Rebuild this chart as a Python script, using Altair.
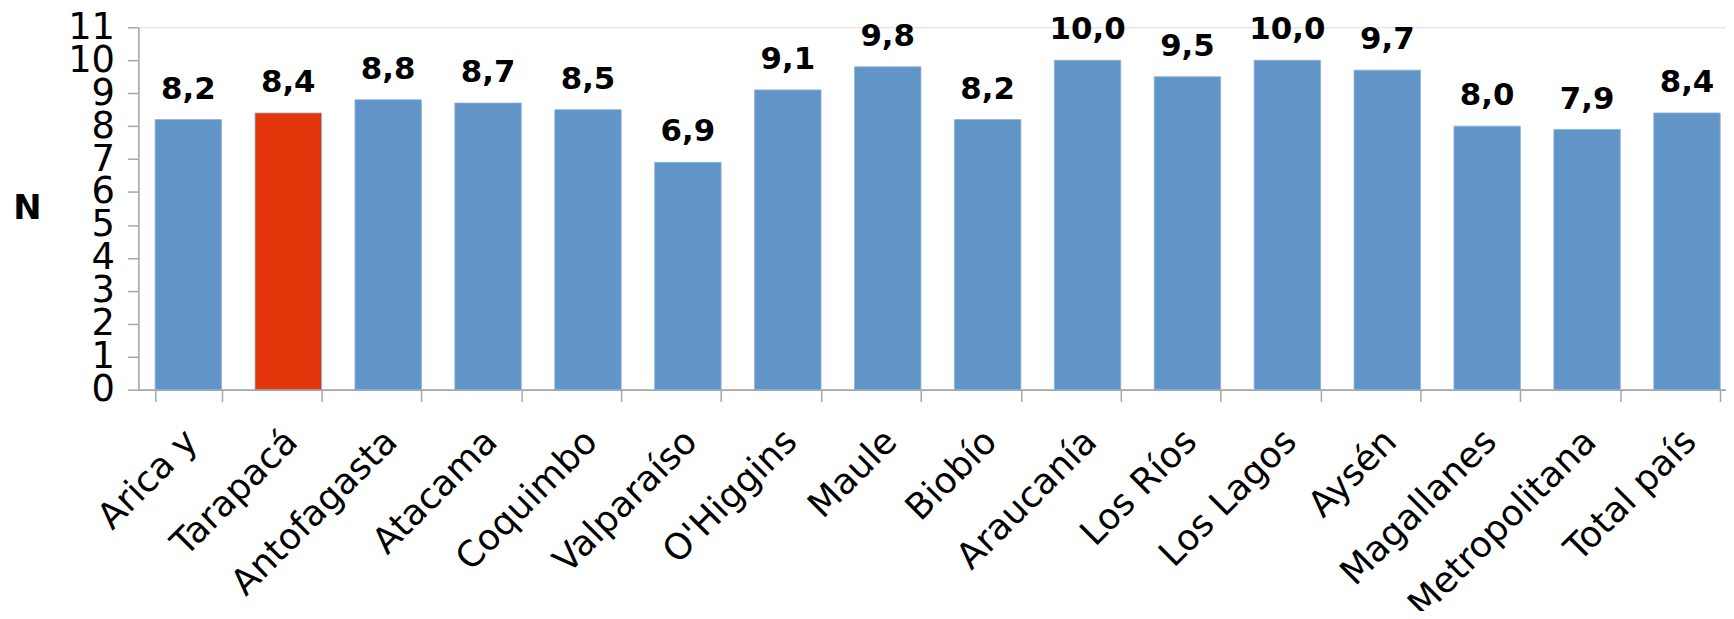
import altair as alt
import pandas as pd

categories = ["Arica y", "Tarapacá", "Antofagasta", "Atacama", "Coquimbo", "Valparaíso",
              "O'Higgins", "Maule", "Biobío", "Araucanía", "Los Ríos", "Los Lagos",
              "Aysén", "Magallanes", "Metropolitana", "Total país"]
values = [8.2, 8.4, 8.8, 8.7, 8.5, 6.9, 9.1, 9.8, 8.2, 10.0, 9.5, 10.0, 9.7, 8.0, 7.9, 8.4]
highlight = ["no", "yes"] + ["no"] * 14
y_ticks = list(range(0, 12))

df = pd.DataFrame({
    "region": categories,
    "value": values,
    "hl": highlight,
    "label": [f"{v:.1f}".replace(".", ",") for v in values],
})

FONT = "DejaVu Sans"
GREY = "#A6A6A6"

x_enc = alt.X(
    "region:N",
    sort=categories,
    scale=alt.Scale(paddingInner=0.335, paddingOuter=0.1675, range=[0, 1606]),
    axis=alt.Axis(
        title=None,
        labelAngle=-45,
        labelAlign="right",
        labelBaseline="middle",
        labelPadding=34,
        labelOffset=3,
        labelFontSize=36,
        labelFont=FONT,
        labelColor="black",
        labelOverlap=False,
        labelLimit=1000,
        tickBand="extent",
        tickSize=12,
        tickWidth=1.5,
        tickColor=GREY,
        domainColor=GREY,
        domainWidth=2,
        grid=False,
    ),
)

y_enc = alt.Y(
    "value:Q",
    scale=alt.Scale(domain=[0, 11], nice=False),
    axis=alt.Axis(
        values=y_ticks,
        title="N",
        titleAngle=0,
        titleFontSize=34,
        titleFont=FONT,
        titleFontWeight="bold",
        titleColor="black",
        titleX=-112,
        titleY=182,
        titleAlign="center",
        titleBaseline="middle",
        labelFontSize=37,
        labelFont=FONT,
        labelColor="black",
        labelOverlap=False,
        labelBaseline="middle",
        labelPadding=13,
        tickSize=11,
        tickWidth=1.5,
        tickColor=GREY,
        domainColor=GREY,
        domainWidth=1.5,
        grid=False,
    ),
)

base = alt.Chart(df).encode(x=x_enc, y=y_enc)

bars = base.mark_bar(stroke="#8DB1DA", strokeWidth=0.8).encode(
    color=alt.Color("hl:N", scale=alt.Scale(domain=["no", "yes"], range=["#6195C8", "#E3360A"]), legend=None),
)

text = base.mark_text(
    font=FONT, fontSize=31, fontWeight="bold", baseline="alphabetic", align="center", dy=-21, color="black"
).encode(
    text="label:N",
)

chart = alt.layer(bars, text).properties(
    width=1595,
    height=364,
    autosize=alt.AutoSizeParams(type="none"),
    padding={"left": 131, "top": 18, "right": 0, "bottom": 221},
).configure_view(stroke=None).configure(background="white")

chart.save("out.html", embed_options={"renderer": "svg", "actions": False})
